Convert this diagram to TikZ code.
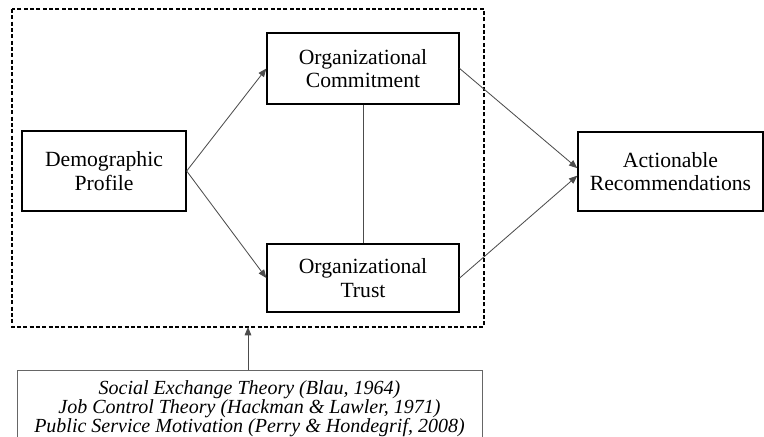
\documentclass[tikz,border=0pt]{standalone}
\usepackage{fontspec}
\setmainfont{Liberation Serif}
\usetikzlibrary{arrows.meta}
\tikzset{
	box/.style = {draw, line width=0.8pt, align=center, inner sep=0pt, font=\fontsize{13}{14}\selectfont},
	link/.style = {draw=black!70, line width=0.5pt},
	arr/.style = {link, -{Triangle[length=5pt,width=4pt]}}
}
\begin{document}
\begin{tikzpicture}[x=0.6pt,y=-0.6pt]
	\useasboundingbox (0,0) rectangle (764,436);
	\coordinate (frametl) at (12,9);
	\coordinate (framebr) at (484,327);
	\coordinate (framebot) at (248,327);
	\draw [line width=0.7pt, dash pattern=on 2.4pt off 1.4pt] (frametl) rectangle (framebr);
	\node [box, minimum width=98.4pt, minimum height=48pt] (demo) at (104,171) {Demographic\\Profile};
	\node [box, minimum width=115.2pt, minimum height=42.6pt] (commit) at (363,68.5) {Organizational\\Commitment};
	\node [box, minimum width=115.2pt, minimum height=40.8pt] (trust) at (363,278) {Organizational\\Trust};
	\node [box, minimum width=111pt, minimum height=47.4pt] (act) at (670.5,171.5) {Actionable\\Recommendations};
	\node [box, line width=0.5pt, draw=black!60, anchor=north, minimum width=279pt, minimum height=46pt,
		font=\fontsize{12}{11.4}\selectfont\itshape] (theory) at (249.5,370)
		{Social Exchange Theory (Blau, 1964)\\Job Control Theory (Hackman \& Lawler, 1971)\\Public Service Motivation (Perry \& Hondegrif, 2008)};
	\draw [arr] (demo.east) -- (commit.west);
	\draw [arr] (demo.east) -- (trust.west);
	\draw [link] (commit.south) -- (trust.north);
	\draw [arr] (commit.east) -- ([yshift=2pt]act.west);
	\draw [arr] (trust.east) -- ([yshift=-2.5pt]act.west);
	\draw [arr] (theory.north -| framebot) -- (framebot);
\end{tikzpicture}
\end{document}
